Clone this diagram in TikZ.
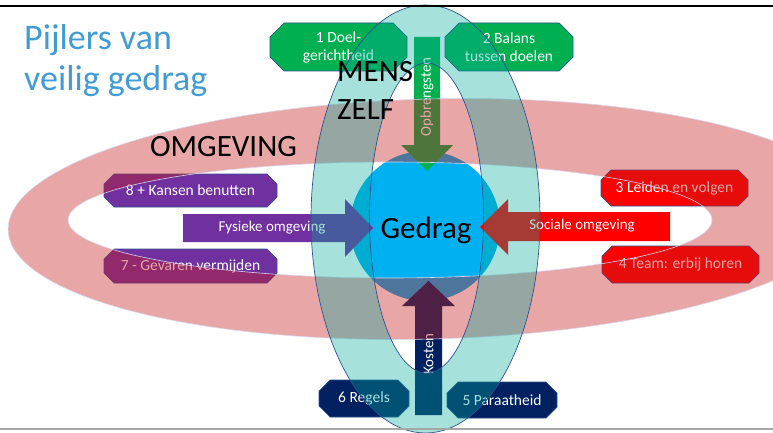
\documentclass[tikz,border=0pt]{standalone}
\usepackage{fontspec}
\setmainfont{Carlito}
\definecolor{titleblue}{RGB}{65,155,213}
\definecolor{boxgreen}{RGB}{0,176,80}
\definecolor{boxpurple}{RGB}{112,48,160}
\definecolor{boxred}{RGB}{255,0,0}
\definecolor{boxnavy}{RGB}{0,32,96}
\definecolor{circblue}{RGB}{0,176,240}
\definecolor{ringpink}{RGB}{197,32,32}
\definecolor{ringteal}{RGB}{0,170,156}
\definecolor{edgeblue}{RGB}{47,82,143}
\definecolor{pinkedge}{RGB}{215,215,240}
\definecolor{lowgray}{RGB}{166,166,166}
\newcommand\ChamBox[6]{%
  \filldraw[fill=#5, draw=edgeblue, line width=0.7pt]
    (#1+#6,#2) -- (#3-#6,#2) -- (#3,#2+#6) -- (#3,#4-#6) -- (#3-#6,#4)
    -- (#1+#6,#4) -- (#1,#4-#6) -- (#1,#2+#6) -- cycle;}
\tikzset{
  boxtext/.style={text=white, align=center, inner sep=0pt,
    font=\fontsize{15.5}{18}\selectfont},
  arrowtext/.style={text=white, inner sep=0pt, font=\fontsize{15}{18}\selectfont},
  bigtext/.style={text=black, inner sep=0pt, anchor=base west,
    font=\fontsize{31}{36}\selectfont},
  titletext/.style={text=titleblue, inner sep=0pt, anchor=base west,
    font=\fontsize{36}{41}\selectfont},
}
\begin{document}
\begin{tikzpicture}[x=1pt,y=-1pt]
\useasboundingbox (0,0) rectangle (773,433);
\clip (0,0) rectangle (773,433);
% central circle
\fill[circblue] (425,226) circle[radius=75pt];
% boxes
\ChamBox{270}{23}{407}{71}{boxgreen}{14}
\ChamBox{445}{23}{573}{71}{boxgreen}{14}
\ChamBox{104}{174}{277}{207}{boxpurple}{10}
\ChamBox{104}{249}{277}{283}{boxpurple}{10}
\ChamBox{601}{170}{748}{206}{boxred}{10}
\ChamBox{602}{246}{759}{283}{boxred}{10}
\ChamBox{319}{380}{409}{417}{boxnavy}{11}
\ChamBox{447}{382}{557}{418}{boxnavy}{11}
\node[boxtext] (b1) at (338.5,47) {1 Doel-\\gerichtheid};
\node[boxtext] (b2) at (509,47) {2 Balans\\tussen doelen};
\node[boxtext] (b8) at (190.5,190.5) {8 + Kansen benutten};
\node[boxtext] (b7) at (190.5,266) {7 - Gevaren vermijden};
\node[boxtext] (b3) at (674.5,188) {3 Leiden en volgen};
\node[boxtext] (b4) at (680.5,264.5) {4 Team: erbij horen};
\node[boxtext] (b6) at (364,398.5) {6 Regels};
\node[boxtext] (b5) at (502,400) {5 Paraatheid};
% block arrows
\fill[boxgreen] (414,37) -- (440,37) -- (440,145) -- (453,145) -- (427,171)
  -- (401,145) -- (414,145) -- cycle;
\fill[boxnavy] (415,415) -- (442,415) -- (442,306) -- (455,306) -- (428.5,281)
  -- (402,306) -- (415,306) -- cycle;
\fill[boxpurple] (183,214) -- (345,214) -- (345,199) -- (373,228) -- (345,257)
  -- (345,242) -- (183,242) -- cycle;
\fill[boxred] (670,212) -- (508,212) -- (508,199) -- (480,227) -- (508,255)
  -- (508,241) -- (670,241) -- cycle;
\node[arrowtext, rotate=90] (opb) at (427,97) {Opbrengsten};
\node[arrowtext, rotate=90] (kos) at (428.5,354) {Kosten};
\node[arrowtext] (fys) at (272,228) {Fysieke omgeving};
\node[arrowtext] (soc) at (582,226) {Sociale omgeving};
% pink ring
\begin{scope}
\fill[ringpink, opacity=0.4, even odd rule]
  [rotate around={1.5:(430,219)}] (430,219) ellipse[x radius=422pt, y radius=120pt]
  [rotate around={-1.5:(430,219)}] (390,220) ellipse[x radius=322pt, y radius=58pt];
\end{scope}
\draw[pinkedge, line width=0.6pt, rotate around={1.5:(430,219)}]
  (430,219) ellipse[x radius=422pt, y radius=120pt];
\draw[pinkedge, line width=0.6pt] (390,220) ellipse[x radius=322pt, y radius=58pt];
% teal ring
\fill[ringteal, opacity=0.35, even odd rule]
  (425.5,219) ellipse[x radius=114.5pt, y radius=214pt]
  (426.5,218) ellipse[x radius=57pt, y radius=155pt];
\draw[edgeblue, line width=0.7pt] (425.5,219) ellipse[x radius=114.5pt, y radius=214pt];
\draw[edgeblue, line width=0.7pt] (426.5,218) ellipse[x radius=57pt, y radius=155pt];
% labels
\node[text=black, inner sep=0pt, anchor=base, font=\fontsize{31}{36}\selectfont]
  (ged) at (426,238) {Gedrag};
\node[bigtext] (mens) at (337,82) {MENS};
\node[bigtext] (zelf) at (337,120) {ZELF};
\node[bigtext] (omg) at (150,157) {OMGEVING};
\node[titletext] (t1) at (24,50) {Pijlers van};
\node[titletext] (t2) at (24,91) {veilig gedrag};
% frame lines
\draw[black, line width=2.4pt] (0,6.2) -- (773,6.2);
\draw[lowgray, line width=2pt] (0,428.5) -- (773,428.5);
\end{tikzpicture}
\end{document}
